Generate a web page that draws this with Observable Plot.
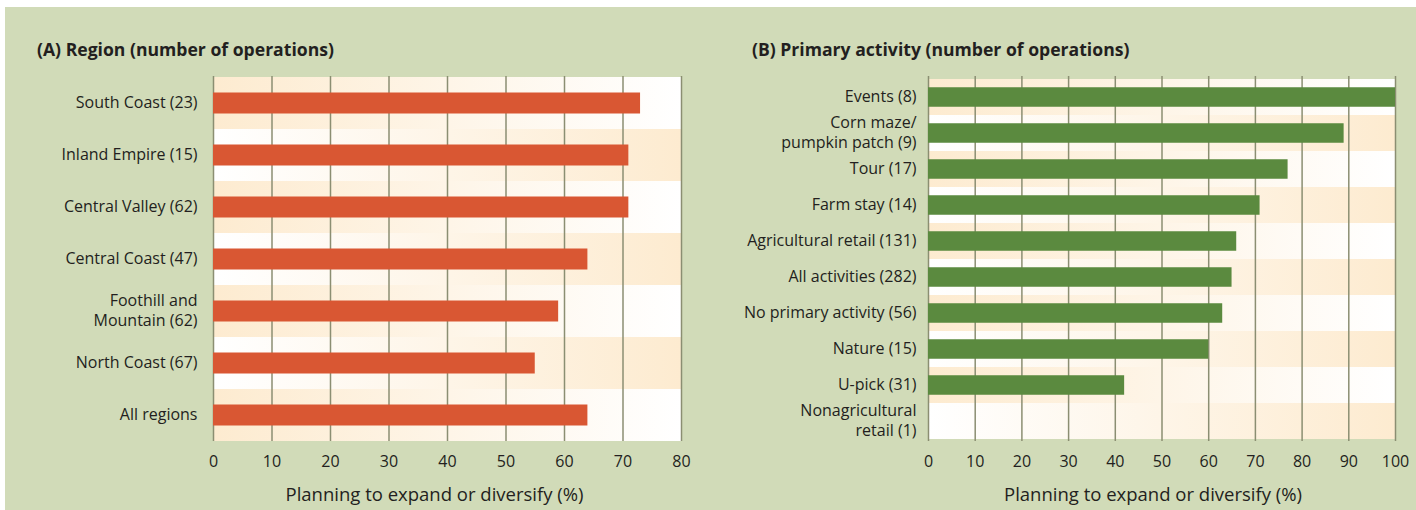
<!DOCTYPE html>
<html><head><meta charset="utf-8">
<script src="https://cdn.jsdelivr.net/npm/d3@7"></script>
<script src="https://cdn.jsdelivr.net/npm/@observablehq/plot@0.6"></script>
<style>
body{margin:0;background:#fff;width:1416px;height:510px;overflow:hidden;position:relative;font-family:"Open Sans",sans-serif;}
#bg{position:absolute;left:5px;top:7px;width:1411px;height:503px;background:#d1dbb8;}
.title{position:absolute;top:36px;font-weight:bold;font-size:17.6px;color:#231f20;line-height:26px;white-space:nowrap;}
.panel{position:absolute;top:60px;}
</style></head><body>
<div id="bg"></div>
<svg width="0" height="0" style="position:absolute">
  <defs>
    <linearGradient id="gOW" x1="0" x2="1" y1="0" y2="0">
      <stop offset="0" stop-color="#fdebd0"/>
      <stop offset="1" stop-color="#ffffff"/>
    </linearGradient>
    <linearGradient id="gWO" x1="0" x2="1" y1="0" y2="0">
      <stop offset="0" stop-color="#ffffff"/>
      <stop offset="1" stop-color="#fdebd0"/>
    </linearGradient>
  </defs>
</svg>
<div class="title" style="left:37px">(A) Region (number of operations)</div>
<div class="title" style="left:752px">(B) Primary activity (number of operations)</div>
<div id="a" class="panel" style="left:5px"></div>
<div id="b" class="panel" style="left:720px"></div>
<script>
const regionLabels = ["South Coast (23)", "Inland Empire (15)", "Central Valley (62)", "Central Coast (47)", "Foothill and\nMountain (62)", "North Coast (67)", "All regions"];
const regionValues = [73, 71, 71, 64, 59, 55, 64];
const regionTicks = [0, 10, 20, 30, 40, 50, 60, 70, 80];

const activityLabels = ["Events (8)", "Corn maze/\npumpkin patch (9)", "Tour (17)", "Farm stay (14)", "Agricultural retail (131)", "All activities (282)", "No primary activity (56)", "Nature (15)", "U-pick (31)", "Nonagricultural\nretail (1)"];
const activityValues = [100, 89, 77, 71, 66, 65, 63, 60, 42, 0];
const activityTicks = [0, 10, 20, 30, 40, 50, 60, 70, 80, 90, 100];

const axisTitle = "Planning to expand or diversify (%)";

function panel({labels, values, ticks, color, width, marginRight, inset, tickPad, dx, lineHeight}) {
  const data = labels.map((l, i) => ({label: l, value: values[i], i}));
  const xMax = ticks[ticks.length - 1];
  return Plot.plot({
    width, height: 450,
    marginLeft: 208, marginRight, marginTop: 16, marginBottom: 69,
    style: {fontFamily: "'Open Sans', sans-serif", fontSize: "16px", color: "#231f20", background: "transparent", overflow: "visible"},
    x: {domain: [0, xMax], ticks, label: null},
    y: {domain: labels, padding: 0, label: null},
    marks: [
      Plot.barX(data.filter(d => d.i % 2 === 0), {x1: 0, x2: xMax, y: "label", fill: "url(#gOW)"}),
      Plot.barX(data.filter(d => d.i % 2 === 1), {x1: 0, x2: xMax, y: "label", fill: "url(#gWO)"}),
      Plot.ruleX(ticks, {stroke: "#8b8e72", strokeWidth: 1.5}),
      Plot.barX(data, {x1: 0, x2: "value", y: "label", fill: color, insetTop: inset, insetBottom: inset}),
      Plot.axisX({ticks, tickSize: 0, tickPadding: 14, label: null, fontSize: 16}),
      Plot.axisY({tickSize: 0, tickPadding: tickPad, label: null, lineHeight, dy: -2}),
      Plot.text([axisTitle], {text: d => d, frameAnchor: "bottom", dy: 59, dx, fontSize: 18.5})
    ]
  });
}

document.getElementById("a").append(panel({
  labels: regionLabels, values: regionValues, ticks: regionTicks, color: "#d95733",
  width: 707, marginRight: 31, inset: 15.5, tickPad: 16, dx: -13, lineHeight: 1.25
}));
document.getElementById("b").append(panel({
  labels: activityLabels, values: activityValues, ticks: activityTicks, color: "#5b8a3f",
  width: 696, marginRight: 21, inset: 8.25, tickPad: 12, dx: -9, lineHeight: 1.25
}));
</script>
</body></html>
